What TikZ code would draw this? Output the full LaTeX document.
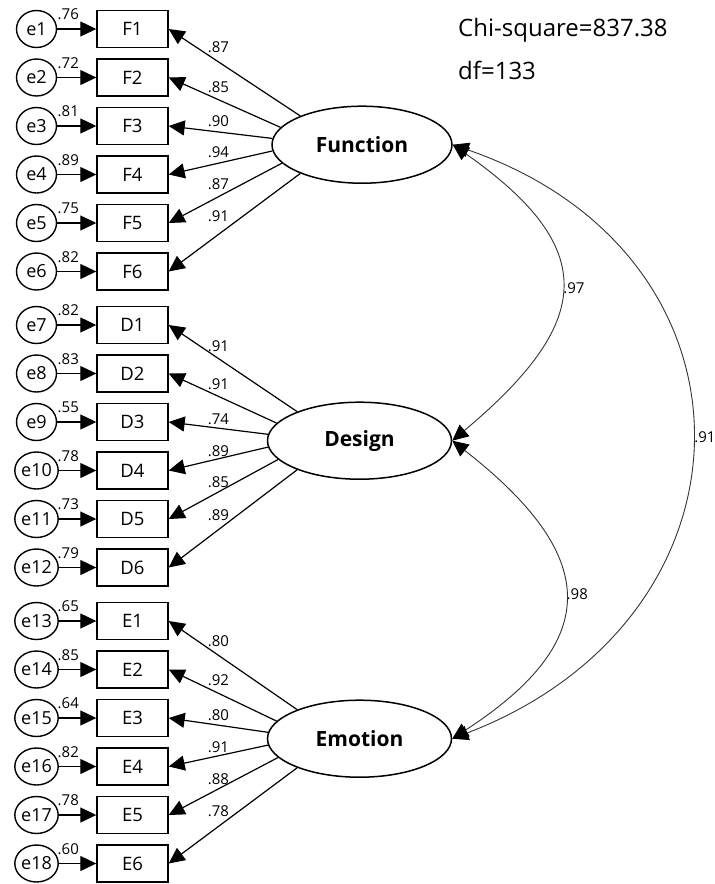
\documentclass[tikz,border=0pt]{standalone}
\usepackage{fontspec}
\setmainfont{Open Sans}
\usetikzlibrary{shapes.geometric}
\usetikzlibrary{arrows.meta}

\begin{document}
\begin{tikzpicture}[x=1pt,y=1pt,>={Triangle[length=16pt,width=15pt,color=black]},
	err node/.style={ellipse, draw, line width=1.4pt, minimum width=40pt, minimum height=37pt, inner sep=0pt, font=\fontsize{18}{18}\selectfont},
	obs node/.style={rectangle, draw, line width=1.4pt, minimum width=71pt, minimum height=37pt, inner sep=0pt, font=\fontsize{18.5}{18.5}\selectfont},
	lat node/.style={ellipse, draw, line width=1.5pt, minimum height=77pt, inner sep=0pt, font=\bfseries\fontsize{21}{21}\selectfont},
	coef/.style={inner sep=0pt, font=\fontsize{15}{15}\selectfont},
	load/.style={->, line width=1.2pt},
	cov/.style={<->, line width=0.9pt, draw=black!80}]

	\useasboundingbox (0,0) rectangle (715,-884);

	% error terms
	\node[err node] at (36.5,-29) (e1) {e1};
	\node[err node] at (36.5,-77.5) (e2) {e2};
	\node[err node] at (36.5,-126) (e3) {e3};
	\node[err node] at (36.5,-174.5) (e4) {e4};
	\node[err node] at (36.5,-223) (e5) {e5};
	\node[err node] at (36.5,-271.5) (e6) {e6};
	\node[err node] at (36.5,-325) (e7) {e7};
	\node[err node] at (36.5,-373.5) (e8) {e8};
	\node[err node] at (36.5,-422) (e9) {e9};
	\node[err node] at (36.5,-470.5) (e10) {e10};
	\node[err node] at (36.5,-519) (e11) {e11};
	\node[err node] at (36.5,-567.5) (e12) {e12};
	\node[err node] at (36.5,-621) (e13) {e13};
	\node[err node] at (36.5,-669.5) (e14) {e14};
	\node[err node] at (36.5,-718) (e15) {e15};
	\node[err node] at (36.5,-766.5) (e16) {e16};
	\node[err node] at (36.5,-815) (e17) {e17};
	\node[err node] at (36.5,-863.5) (e18) {e18};

	% items
	\node[obs node] at (132.5,-29) (F1) {F1};
	\node[obs node] at (132.5,-77.5) (F2) {F2};
	\node[obs node] at (132.5,-126) (F3) {F3};
	\node[obs node] at (132.5,-174.5) (F4) {F4};
	\node[obs node] at (132.5,-223) (F5) {F5};
	\node[obs node] at (132.5,-271.5) (F6) {F6};
	\node[obs node] at (132.5,-325) (D1) {D1};
	\node[obs node] at (132.5,-373.5) (D2) {D2};
	\node[obs node] at (132.5,-422) (D3) {D3};
	\node[obs node] at (132.5,-470.5) (D4) {D4};
	\node[obs node] at (132.5,-519) (D5) {D5};
	\node[obs node] at (132.5,-567.5) (D6) {D6};
	\node[obs node] at (132.5,-621) (E1) {E1};
	\node[obs node] at (132.5,-669.5) (E2) {E2};
	\node[obs node] at (132.5,-718) (E3) {E3};
	\node[obs node] at (132.5,-766.5) (E4) {E4};
	\node[obs node] at (132.5,-815) (E5) {E5};
	\node[obs node] at (132.5,-863.5) (E6) {E6};

	% factors
	\node[lat node, minimum width=180pt] at (362,-144.7) (fun) {Function};
	\node[lat node, minimum width=184pt] at (359.5,-440.7) (des) {Design};
	\node[lat node, minimum width=184pt] at (359.5,-738.7) (emo) {Emotion};

	% error variances
	\node[coef, anchor=base west] at (57.5,-19.5) (v1) {.76};
	\node[coef, anchor=base west] at (57.5,-68) (v2) {.72};
	\node[coef, anchor=base west] at (57.5,-116.5) (v3) {.81};
	\node[coef, anchor=base west] at (57.5,-165) (v4) {.89};
	\node[coef, anchor=base west] at (57.5,-213.5) (v5) {.75};
	\node[coef, anchor=base west] at (57.5,-262) (v6) {.82};
	\node[coef, anchor=base west] at (57.5,-315.5) (v7) {.82};
	\node[coef, anchor=base west] at (57.5,-364) (v8) {.83};
	\node[coef, anchor=base west] at (57.5,-412.5) (v9) {.55};
	\node[coef, anchor=base west] at (57.5,-461) (v10) {.78};
	\node[coef, anchor=base west] at (57.5,-509.5) (v11) {.73};
	\node[coef, anchor=base west] at (57.5,-558) (v12) {.79};
	\node[coef, anchor=base west] at (57.5,-611.5) (v13) {.65};
	\node[coef, anchor=base west] at (57.5,-660) (v14) {.85};
	\node[coef, anchor=base west] at (57.5,-708.5) (v15) {.64};
	\node[coef, anchor=base west] at (57.5,-757) (v16) {.82};
	\node[coef, anchor=base west] at (57.5,-805.5) (v17) {.78};
	\node[coef, anchor=base west] at (57.5,-854) (v18) {.60};

	% loadings
	\node[coef] at (218.5,-47.5) (l1) {.87};
	\node[coef] at (218.5,-87) (l2) {.85};
	\node[coef] at (218.5,-121) (l3) {.90};
	\node[coef] at (218.5,-152.5) (l4) {.94};
	\node[coef] at (218.5,-184) (l5) {.87};
	\node[coef] at (218.5,-216.5) (l6) {.91};
	\node[coef] at (218.5,-346) (l7) {.91};
	\node[coef] at (218.5,-384.5) (l8) {.91};
	\node[coef] at (218.5,-419) (l9) {.74};
	\node[coef] at (218.5,-451) (l10) {.89};
	\node[coef] at (218.5,-482.5) (l11) {.85};
	\node[coef] at (218.5,-515) (l12) {.89};
	\node[coef] at (218.5,-641) (l13) {.80};
	\node[coef] at (218.5,-680) (l14) {.92};
	\node[coef] at (218.5,-715) (l15) {.80};
	\node[coef] at (218.5,-747.5) (l16) {.91};
	\node[coef] at (218.5,-779) (l17) {.88};
	\node[coef] at (218.5,-811) (l18) {.78};

	% fit
	\node[anchor=base west, inner sep=0pt, font=\fontsize{24}{24}\selectfont] at (458,-36.5) (chi) {Chi-square=837.38};
	\node[anchor=base west, inner sep=0pt, font=\fontsize{24}{24}\selectfont] at (458,-79.5) (df) {df=133};

	\path[load]
	(e1) edge (F1) (e2) edge (F2) (e3) edge (F3)
	(e4) edge (F4) (e5) edge (F5) (e6) edge (F6)
	(e7) edge (D1) (e8) edge (D2) (e9) edge (D3)
	(e10) edge (D4) (e11) edge (D5) (e12) edge (D6)
	(e13) edge (E1) (e14) edge (E2) (e15) edge (E3)
	(e16) edge (E4) (e17) edge (E5) (e18) edge (E6)
	;
	\path[load]
	(fun.155) edge (F1.east)
	(fun.168) edge (F2.east)
	(fun.176) edge (F3.east)
	(fun.184) edge (F4.east)
	(fun.193) edge (F5.east)
	(fun.205) edge (F6.east)
	(des.155) edge (D1.east)
	(des.168) edge (D2.east)
	(des.176) edge (D3.east)
	(des.184) edge (D4.east)
	(des.193) edge (D5.east)
	(des.205) edge (D6.east)
	(emo.155) edge (E1.east)
	(emo.168) edge (E2.east)
	(emo.176) edge (E3.east)
	(emo.184) edge (E4.east)
	(emo.193) edge (E5.east)
	(emo.205) edge (E6.east)
	;

	\draw[cov] (fun.east) to[out=-35,in=40,looseness=1.58] node[coef,right=2pt] (c1) {.97} (des.east);
	\draw[cov] (des.east) to[out=-38,in=33,looseness=1.58] node[coef,right=2pt] (c2) {.98} (emo.east);
	\draw[cov] (fun.east) to[out=-19,in=21,looseness=1.46] node[coef,right=3pt] (c3) {.91} (emo.east);

\end{tikzpicture}
\end{document}
